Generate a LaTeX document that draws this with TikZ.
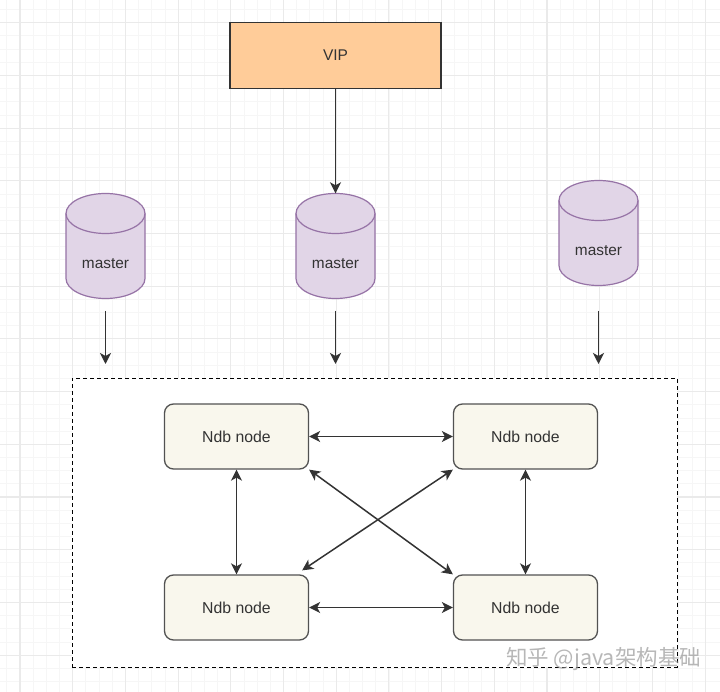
\documentclass[tikz,border=0pt]{standalone}
\usepackage{fontspec}
\setmainfont{Liberation Sans}
\newfontfamily\cjk{Noto Sans CJK SC}
\usetikzlibrary{arrows.meta}
\definecolor{gridminor}{HTML}{F6F6F6}
\definecolor{gridmajor}{HTML}{EAEAEA}
\definecolor{ink}{HTML}{333333}
\definecolor{cream}{HTML}{F9F7ED}
\definecolor{dbfill}{HTML}{E1D5E7}
\definecolor{dbline}{HTML}{9673A6}
\definecolor{vipfill}{HTML}{FFCC99}
\tikzset{
  flow/.style={draw=ink,line width=1.5pt,-{Stealth[length=11pt,width=11pt,inset=3pt]}},
  both/.style={draw=ink,line width=1.5pt,{Stealth[length=11pt,width=11pt,inset=3pt]}-{Stealth[length=11pt,width=11pt,inset=3pt]}},
  ndb/.style={draw=ink!85,line width=1.3pt,fill=cream,rounded corners=9pt,minimum width=144pt,minimum height=65pt,font=\fontsize{15.8}{17}\selectfont,text=ink,inner sep=0pt},
  dbbody/.style={minimum width=79pt,minimum height=105pt,inner sep=0pt},
  dbtext/.style={font=\fontsize{15.4}{17}\selectfont,text=ink,inner sep=0pt,yshift=-18pt},
  dbshape/.style={draw=dbline,line width=1.2pt,fill=dbfill},
}
\newcommand\dbnode[3]{%
  \draw[dbshape] (#2-39.5,#3-32.5) arc[start angle=180,end angle=0,x radius=39.5pt,y radius=20pt]
     -- (#2+39.5,#3+32.5) arc[start angle=0,end angle=-180,x radius=39.5pt,y radius=20pt] -- cycle;
  \draw[dbshape,fill=none] (#2-39.5,#3-32.5) arc[start angle=180,end angle=360,x radius=39.5pt,y radius=20pt];
  \node[dbbody,label={[dbtext]center:master}] (#1) at (#2,#3) {};
}
\begin{document}
\begin{tikzpicture}[x=1pt,y=-1pt]
\useasboundingbox (0,0) rectangle (720,692);
\fill[white] (0,0) rectangle (720,692);
\foreach \i in {-1,...,56}{
  \draw[gridminor,line width=0.8pt] ({20-52.7+13.175*\i},0) -- ({20-52.7+13.175*\i},692);
  \draw[gridminor,line width=0.8pt] (0,{22.7-13.175+13.175*\i}) -- (720,{22.7-13.175+13.175*\i});
}
\foreach \i in {0,...,13}{
  \draw[gridmajor,line width=1.1pt] ({20+52.7*\i},0) -- ({20+52.7*\i},692);
  \draw[gridmajor,line width=1.1pt] (0,{22.7+52.7*\i}) -- (720,{22.7+52.7*\i});
}
\node[draw=black,dash pattern=on 4pt off 3pt,line width=0.9pt,fill=white,minimum width=605pt,minimum height=289pt,inner sep=0pt] (box) at (374.5,522.5) {};
\node[draw=ink,line width=1.3pt,fill=vipfill,minimum width=211pt,minimum height=66pt,inner sep=0pt,font=\fontsize{15.5}{17}\selectfont,text=ink] (vip) at (335.5,55.5) {VIP};
\dbnode{m1}{105.5}{246}
\dbnode{m2}{335.5}{246}
\dbnode{m3}{598.5}{233}
\node[ndb] (a) at (236.5,436.5) {Ndb node};
\node[ndb] (b) at (525.5,436.5) {Ndb node};
\node[ndb] (c) at (236.5,607.5) {Ndb node};
\node[ndb] (d) at (525.5,607.5) {Ndb node};
\coordinate (s1) at (105.5,311);
\coordinate (e1) at (105.5,364);
\coordinate (s2) at (335.5,311);
\coordinate (e2) at (335.5,364);
\coordinate (s3) at (598.5,311);
\coordinate (e3) at (598.5,364);
\draw[flow] (vip.south) -- (m2.north);
\draw[flow] (s1) -- (e1);
\draw[flow] (s2) -- (e2);
\draw[flow] (s3) -- (e3);
\draw[both] (a) -- (b);
\draw[both] (c) -- (d);
\draw[both] (a) -- (c);
\draw[both] (b) -- (d);
\draw[both] (a.south east) -- (d.north west);
\draw[both] (b.south west) -- ([xshift=-7pt,yshift=4pt]c.north east);
\node[text=black!40,opacity=0.7,font=\fontsize{21.5}{24}\selectfont\cjk,inner sep=0pt] (wm) at (603.5,659) {知乎 @java架构基础};
\end{tikzpicture}
\end{document}
